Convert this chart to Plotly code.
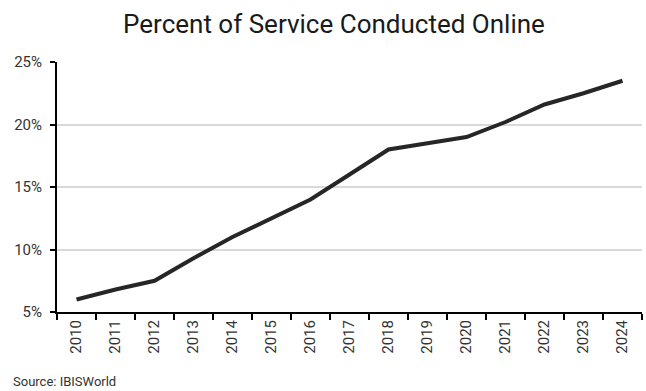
import plotly.graph_objects as go

years = ["2010", "2011", "2012", "2013", "2014", "2015", "2016", "2017",
         "2018", "2019", "2020", "2021", "2022", "2023", "2024"]
percent_online = [6.0, 6.8, 7.5, 9.3, 11.0, 12.5, 14.0, 16.0,
                  18.0, 18.5, 19.0, 20.2, 21.6, 22.5, 23.5]
y_ticks = [5, 10, 15, 20, 25]
y_tick_labels = ["5%", "10%", "15%", "20%", "25%"]

fig = go.Figure()
fig.add_trace(go.Scatter(
    x=years, y=percent_online, mode="lines",
    line=dict(color="#262626", width=4),
    hoverinfo="x+y",
))

fig.update_layout(
    width=646, height=391,
    margin=dict(l=57, r=4, t=62, b=79),
    paper_bgcolor="white", plot_bgcolor="white",
    font=dict(family="Roboto, Arial, sans-serif", color="#333333"),
    title=dict(text="Percent of Service Conducted Online",
               x=0.517, xanchor="center", y=0.938, yanchor="middle",
               font=dict(size=26, color="#1a1a1a")),
    showlegend=False,
)

fig.update_xaxes(
    type="category", range=[-0.5, 14.5], automargin=False,
    tickangle=-90, tickfont=dict(size=15, color="#333333"),
    showline=True, linecolor="black", linewidth=2,
    ticks="outside", tickson="boundaries", ticklen=6, tickcolor="black", tickwidth=2,
    showgrid=False,
)
fig.update_yaxes(
    range=[5, 25], tickmode="array", tickvals=y_ticks, ticktext=y_tick_labels,
    automargin=False, ticklabelstandoff=5,
    tickfont=dict(size=15, color="#333333"),
    showline=True, linecolor="black", linewidth=2,
    ticks="outside", ticklen=5, tickcolor="black", tickwidth=2,
    showgrid=True, gridcolor="#d9d9d9", gridwidth=1.5,
    zeroline=False,
)

fig.add_annotation(
    text="Source: IBISWorld", xref="paper", yref="paper",
    x=-0.078, y=-0.278, xanchor="left", yanchor="middle",
    showarrow=False, font=dict(size=13, color="#333333"),
)

fig.write_html(
    "out.html",
    config={"displayModeBar": False},
    post_script="document.body.style.margin='0';document.body.style.padding='0';",
)
